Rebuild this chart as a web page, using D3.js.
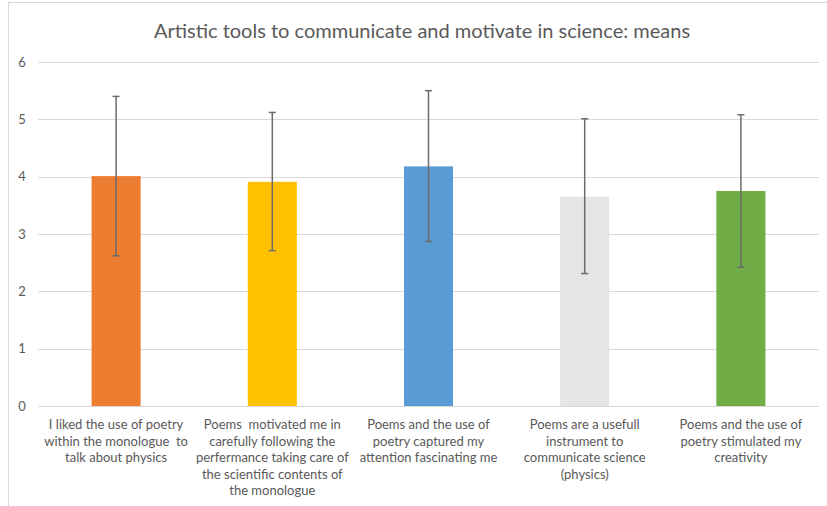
<!DOCTYPE html>
<html>
<head>
<meta charset="utf-8">
<script src="https://cdn.jsdelivr.net/npm/d3@7"></script>
<style>
  html, body { margin: 0; padding: 0; background: #fff; }
  svg { display: block; }
  text { font-family: Lato, "Open Sans", sans-serif; fill: #595959; }
</style>
</head>
<body>
<svg id="chart" width="827" height="506"></svg>
<script>
const title = "Artistic tools to communicate and motivate in science: means";
const categories = [
  "I liked the use of poetry\nwithin the monologue  to\ntalk about physics",
  "Poems  motivated me in\ncarefully following the\nperfermance taking care of\nthe scientific contents of\nthe monologue",
  "Poems and the use of\npoetry captured my\nattention fascinating me",
  "Poems are a usefull\ninstrument to\ncommunicate science\n(physics)",
  "Poems and the use of\npoetry stimulated my\ncreativity"
];
const means = [4.01, 3.91, 4.18, 3.65, 3.75];
const errPlus = [1.39, 1.21, 1.32, 1.36, 1.33];
const errMinus = [1.39, 1.20, 1.31, 1.34, 1.33];
const colors = ["#ED7D31", "#FFC000", "#5B9BD5", "#E5E5E5", "#70AD47"];
const yTicks = [0, 1, 2, 3, 4, 5, 6];

const svg = d3.select("#chart");

// frame
svg.append("line").attr("x1", 8.5).attr("x2", 8.5).attr("y1", 2).attr("y2", 506)
  .attr("stroke", "#d9d9d9").attr("stroke-width", 1);
svg.append("line").attr("x1", 8).attr("x2", 827).attr("y1", 2.5).attr("y2", 2.5)
  .attr("stroke", "#d9d9d9").attr("stroke-width", 1);

const x = d3.scaleBand().domain(d3.range(categories.length))
  .range([38, 819]).paddingInner(0.686).paddingOuter(0.343);
const y = d3.scaleLinear().domain([0, 6]).range([406, 62]);

// gridlines
svg.append("g").selectAll("line").data(yTicks).join("line")
  .attr("x1", 38).attr("x2", 819)
  .attr("y1", d => Math.round(y(d)) + 0.5).attr("y2", d => Math.round(y(d)) + 0.5)
  .attr("stroke", "#d9d9d9").attr("stroke-width", 1);

// y axis labels
const yAxis = d3.axisLeft(y).tickValues(yTicks).tickFormat(d3.format("d")).tickSize(0).tickPadding(0);
const gy = svg.append("g").attr("transform", "translate(26,0)").call(yAxis);
gy.select(".domain").remove();
gy.selectAll("text").attr("font-size", 13).style("font-family", "Lato, sans-serif")
  .attr("fill", "#595959").attr("text-anchor", "middle").attr("x", -4);

// bars
svg.append("g").selectAll("rect").data(means).join("rect")
  .attr("x", (d, i) => x(i)).attr("width", x.bandwidth())
  .attr("y", d => y(d)).attr("height", d => y(0) - y(d))
  .attr("fill", (d, i) => colors[i]);

// error bars
const eb = svg.append("g").attr("stroke", "#6b6b6b").attr("stroke-width", 1.5).attr("fill", "none");
means.forEach((m, i) => {
  const cx = x(i) + x.bandwidth() / 2;
  const top = y(m + errPlus[i]), bot = y(m - errMinus[i]);
  eb.append("line").attr("x1", cx).attr("x2", cx).attr("y1", top).attr("y2", bot);
  eb.append("line").attr("x1", cx - 3.5).attr("x2", cx + 3.5).attr("y1", top).attr("y2", top);
  eb.append("line").attr("x1", cx - 3.5).attr("x2", cx + 3.5).attr("y1", bot).attr("y2", bot);
});

// x labels
const xl = svg.append("g");
categories.forEach((c, i) => {
  const cx = x(i) + x.bandwidth() / 2;
  const t = xl.append("text").attr("text-anchor", "middle").attr("font-size", 13)
    .style("white-space", "pre");
  c.split("\n").forEach((line, j) => {
    t.append("tspan").attr("x", cx).attr("y", 429 + j * 16.5).text(line);
  });
});

// title
svg.append("text").attr("x", 422).attr("y", 38).attr("text-anchor", "middle")
  .attr("font-size", 20).text(title);
</script>
</body>
</html>
